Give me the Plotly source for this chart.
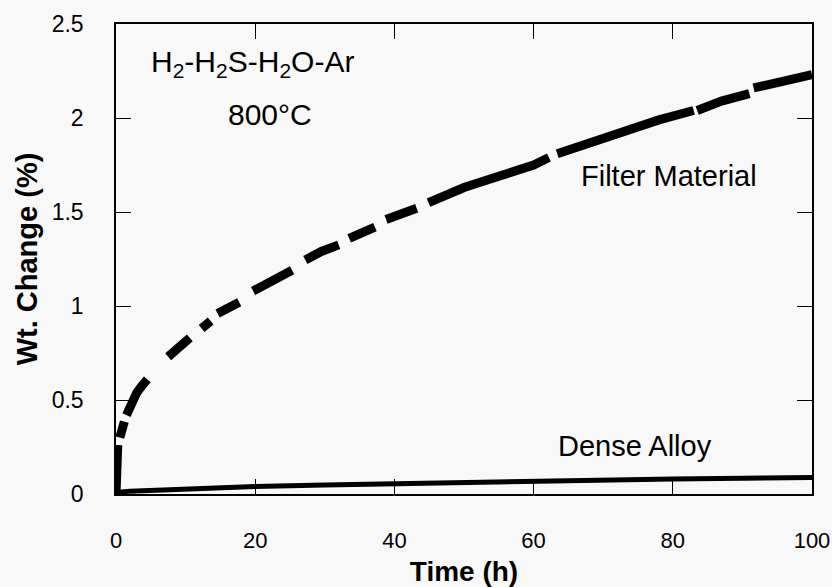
import plotly.graph_objects as go

# ---------------- data ----------------
# Filter material: recorded segments (None = gap in recording)
filter_time = [0, 0.1, 0.2, 0.25, None,
               0.55, 0.9, 1.2, None,
               1.5, 2.2, 3.0, 3.8, 4.5, None,
               7.5, 9.0, 10.6, None,
               12.3, 13.6, None,
               14.6, 16.2, 17.7, None,
               19.7, 22.5, 25.3, None,
               27.2, 29.5, 32.0, None,
               33.5, 35.3, 37.2, None,
               38.8, 41.0, 43.2, None,
               44.9, 50.0, 55.0, 60.0, 62.2, None,
               63.4, 68.0, 73.0, 78.0, 83.0, None,
               83.5, 87.0, 91.0, None,
               91.6, 95.0, 98.0, 100.0]
filter_wt = [0, 0.12, 0.22, 0.26, None,
             0.30, 0.35, 0.385, None,
             0.42, 0.48, 0.54, 0.58, 0.61, None,
             0.73, 0.78, 0.83, None,
             0.88, 0.92, None,
             0.96, 0.99, 1.02, None,
             1.08, 1.14, 1.19, None,
             1.245, 1.29, 1.325, None,
             1.36, 1.39, 1.42, None,
             1.46, 1.49, 1.52, None,
             1.55, 1.63, 1.69, 1.75, 1.79, None,
             1.81, 1.87, 1.93, 1.99, 2.04, None,
             2.04, 2.09, 2.13, None,
             2.16, 2.19, 2.21, 2.23]

dense_time = [0, 0.5, 2, 5, 10, 20, 30, 40, 50, 60, 70, 80, 90, 100]
dense_wt = [0, 0.01, 0.015, 0.02, 0.028, 0.04, 0.048, 0.055, 0.062, 0.072, 0.076, 0.08, 0.084, 0.088]

x_ticks = [0, 20, 40, 60, 80, 100]
x_ticktext = ["0", "20", "40", "60", "80", "100"]
y_ticks = [0, 0.5, 1, 1.5, 2, 2.5]
y_ticktext = ["0", "0.5", "1", "1.5", "2", "2.5"]

# ---------------- figure ----------------
fig = go.Figure()
fig.add_trace(go.Scatter(x=filter_time, y=filter_wt, mode="lines",
                         line=dict(color="black", width=9),
                         connectgaps=False, showlegend=False))
fig.add_trace(go.Scatter(x=dense_time, y=dense_wt, mode="lines",
                         line=dict(color="black", width=5),
                         showlegend=False))

FONT = "Liberation Sans, Arial, sans-serif"

fig.update_layout(
    width=832, height=587,
    margin=dict(l=116, r=20, t=24, b=93, autoexpand=False),
    paper_bgcolor="#f8f8f8", plot_bgcolor="#f8f8f8",
    font=dict(family=FONT, color="black"),
    showlegend=False,
)

fig.update_xaxes(
    range=[0, 100], tickvals=x_ticks, ticktext=x_ticktext,
    showgrid=False, zeroline=False,
    showline=True, linecolor="black", linewidth=1.5, mirror="ticks",
    ticks="inside", ticklen=15, tickwidth=1, tickcolor="black",
    tickfont=dict(size=22, family=FONT), ticklabelstandoff=26,
    ticklabeloverflow="allow",
    title=dict(text="<b>Time (h)</b>", font=dict(size=28, family=FONT), standoff=14),
    automargin=False,
)
fig.update_yaxes(
    range=[0, 2.5], tickvals=y_ticks, ticktext=y_ticktext,
    showgrid=False, zeroline=False,
    showline=True, linecolor="black", linewidth=1.5, mirror="ticks",
    ticks="inside", ticklen=15, tickwidth=1, tickcolor="black",
    tickfont=dict(size=23, family=FONT), ticklabelstandoff=26,
    ticklabeloverflow="allow",
    title=dict(text="<b>Wt. Change (%)</b>", font=dict(size=29, family=FONT), standoff=6),
    automargin=False,
)

fig.add_annotation(x=19.6, y=2.29, xref="x", yref="y",
                   text="H<sub>2</sub>-H<sub>2</sub>S-H<sub>2</sub>O-Ar",
                   showarrow=False, font=dict(size=30, family=FONT),
                   xanchor="center", yanchor="middle")
fig.add_annotation(x=22.1, y=2.02, xref="x", yref="y",
                   text="800°C", showarrow=False, font=dict(size=30, family=FONT),
                   xanchor="center", yanchor="middle")
fig.add_annotation(x=79.5, y=1.69, xref="x", yref="y",
                   text="Filter Material", showarrow=False, font=dict(size=29, family=FONT),
                   xanchor="center", yanchor="middle")
fig.add_annotation(x=74.5, y=0.255, xref="x", yref="y",
                   text="Dense Alloy", showarrow=False, font=dict(size=29, family=FONT),
                   xanchor="center", yanchor="middle")

fig.write_html("out.html",
               config={"displayModeBar": False},
               post_script="document.body.style.margin='0';document.body.style.background='#f8f8f8';")
